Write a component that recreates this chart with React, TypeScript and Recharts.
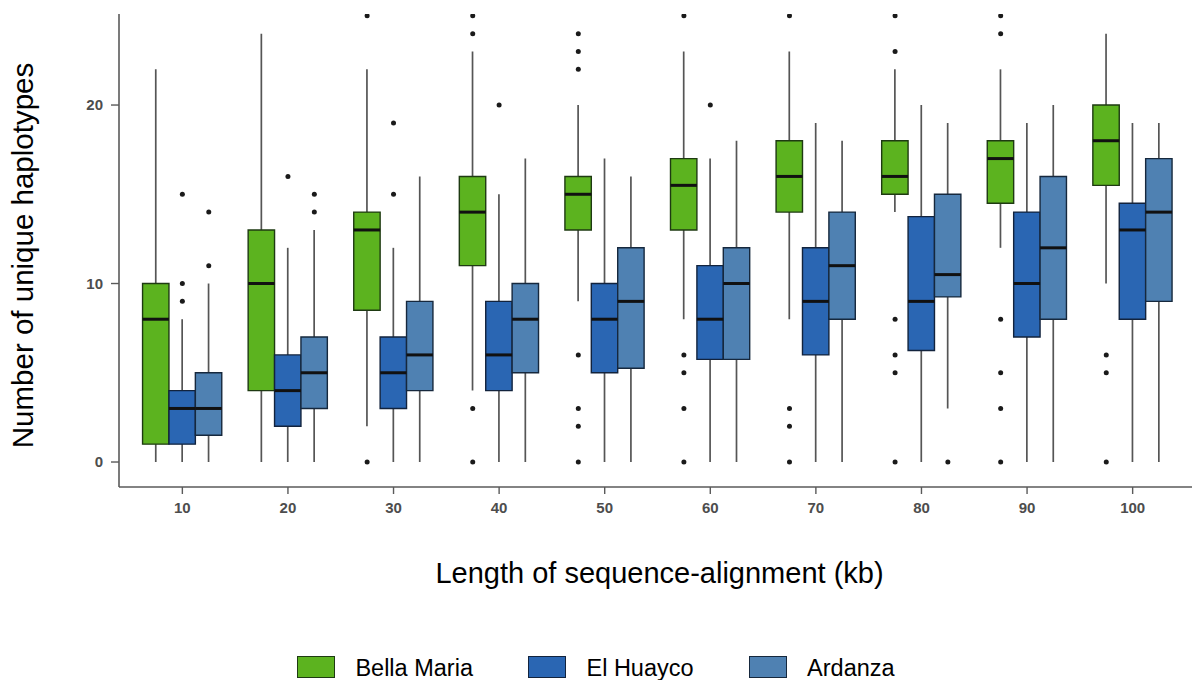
import React from 'react';
import { ComposedChart, XAxis, YAxis, Bar, Scatter } from 'recharts';

// lower whisker, first quartile, median, third quartile, upper whisker
type FiveNum = [number, number, number, number, number];

const kbLabels = ['10', '20', '30', '40', '50', '60', '70', '80', '90', '100'];

const bellaMariaStats: FiveNum[] = [
  [0, 1, 8, 10, 22],
  [0, 4, 10, 13, 24],
  [2, 8.5, 13, 14, 22],
  [4, 11, 14, 16, 23],
  [9, 13, 15, 16, 20],
  [8, 13, 15.5, 17, 23],
  [8, 14, 16, 18, 23],
  [14, 15, 16, 18, 22],
  [12, 14.5, 17, 18, 22],
  [10, 15.5, 18, 20, 24],
];

const elHuaycoStats: FiveNum[] = [
  [0, 1, 3, 4, 8],
  [0, 2, 4, 6, 12],
  [0, 3, 5, 7, 12],
  [0, 4, 6, 9, 15],
  [0, 5, 8, 10, 17],
  [0, 5.75, 8, 11, 17],
  [0, 6, 9, 12, 19],
  [0, 6.25, 9, 13.75, 20],
  [0, 7, 10, 14, 19],
  [0, 8, 13, 14.5, 19],
];

const ardanzaStats: FiveNum[] = [
  [0, 1.5, 3, 5, 10],
  [0, 3, 5, 7, 13],
  [0, 4, 6, 9, 16],
  [0, 5, 8, 10, 17],
  [0, 5.25, 9, 12, 16],
  [0, 5.75, 10, 12, 18],
  [0, 8, 11, 14, 18],
  [3, 9.25, 10.5, 15, 19],
  [0, 8, 12, 16, 20],
  [0, 9, 14, 17, 19],
];

const bellaMariaOutliers: number[][] = [
  [],
  [],
  [0, 25],
  [0, 3, 24, 25],
  [0, 2, 3, 6, 22, 23, 24],
  [0, 3, 5, 6, 25],
  [0, 2, 3, 25],
  [0, 5, 6, 8, 23, 25],
  [0, 3, 5, 8, 24, 25, 26],
  [0, 5, 6],
];

const elHuaycoOutliers: number[][] = [
  [9, 10, 15],
  [16],
  [15, 19],
  [20],
  [],
  [20],
  [],
  [],
  [],
  [],
];

const ardanzaOutliers: number[][] = [
  [11, 14],
  [14, 15],
  [],
  [],
  [],
  [],
  [],
  [0],
  [],
  [],
];

const FONT = '"Liberation Sans", Arial, Helvetica, sans-serif';
const Y_DOMAIN: [number, number] = [-1.4, 25.1];

const sites = [
  { key: 'bella', name: 'Bella Maria', stats: bellaMariaStats, outliers: bellaMariaOutliers, fill: '#5cb31f', edge: '#1e3a12', dodge: -0.25 },
  { key: 'huayco', name: 'El Huayco', stats: elHuaycoStats, outliers: elHuaycoOutliers, fill: '#2a66b3', edge: '#12233d', dodge: 0 },
  { key: 'ardanza', name: 'Ardanza', stats: ardanzaStats, outliers: ardanzaOutliers, fill: '#4f81b2', edge: '#16283d', dodge: 0.25 },
];

const rows = kbLabels.map((kb, i) => ({
  kb,
  bella: bellaMariaStats[i],
  huayco: elHuaycoStats[i],
  ardanza: ardanzaStats[i],
}));

// outliers sit on a numeric copy of the category axis (category i -> i + 1)
const outlierPoints = sites.map((s) =>
  s.outliers.flatMap((vals, i) => vals.map((v) => ({ x: i + 1 + s.dodge, y: v })))
);

const pick = (key: string, a: number, b: number) => (r: any) =>
  r && r[key] ? [r[key][a], r[key][b]] : undefined;

const Whisker = (props: any) => {
  const { x, y, width, height } = props;
  const cx = x + width / 2;
  return <line x1={cx} x2={cx} y1={y} y2={y + height} stroke="#555" strokeWidth={1.7} />;
};

const MedianLine = (props: any) => {
  const { x, y, width } = props;
  return <line x1={x} x2={x + width} y1={y} y2={y} stroke="#111" strokeWidth={3} />;
};

const OutlierDot = (props: any) => <circle cx={props.cx} cy={props.cy} r={2.5} fill="#1a1a1a" />;

const YTitle = (props: any) => {
  const { viewBox } = props;
  const x = viewBox.x + 33;
  const y = viewBox.y + viewBox.height / 2 + 5;
  return (
    <text x={x} y={y} transform={`rotate(-90, ${x}, ${y})`} textAnchor="middle" fontSize={29.5} fill="#000" fontFamily={FONT}>
      Number of unique haplotypes
    </text>
  );
};

const XTitle = (props: any) => {
  const { viewBox } = props;
  return (
    <text x={viewBox.x + viewBox.width / 2 + 2} y={viewBox.y + 96} textAnchor="middle" fontSize={29} fill="#000" fontFamily={FONT}>
      Length of sequence-alignment (kb)
    </text>
  );
};

const BAND_PAD = 10.56;
const tickStyle = { fontSize: 15, fontWeight: 700, fill: '#4d4d4d', fontFamily: FONT };

export default function App() {
  return (
    <div style={{ position: 'absolute', left: 0, top: 0, width: 1192, height: 680, overflow: 'hidden', background: '#fff', fontFamily: FONT }}>
      <ComposedChart
        width={1200}
        height={680}
        data={rows}
        margin={{ top: 14, right: 4, bottom: 0, left: 0 }}
        barSize={26.4}
        barGap={0}
      >
        <XAxis
          xAxisId="box"
          dataKey="kb"
          type="category"
          height={193}
          padding={{ left: BAND_PAD, right: BAND_PAD }}
          axisLine={{ stroke: '#5a5a5a', strokeWidth: 1.6 }}
          tickLine={{ stroke: '#5a5a5a', strokeWidth: 1.4 }}
          tickSize={7}
          tickMargin={8}
          tick={tickStyle}
          label={<XTitle />}
        />
        <XAxis xAxisId="whisker" dataKey="kb" type="category" hide padding={{ left: BAND_PAD, right: BAND_PAD }} />
        <XAxis xAxisId="median" dataKey="kb" type="category" hide padding={{ left: BAND_PAD, right: BAND_PAD }} />
        <XAxis xAxisId="num" type="number" dataKey="x" domain={[0.4, 10.6]} hide allowDataOverflow />
        <YAxis
          width={119}
          domain={Y_DOMAIN}
          allowDataOverflow
          ticks={[0, 10, 20]}
          axisLine={{ stroke: '#5a5a5a', strokeWidth: 1.6 }}
          tickLine={{ stroke: '#5a5a5a', strokeWidth: 1.4 }}
          tickSize={8}
          tickMargin={8}
          tick={tickStyle}
          label={<YTitle />}
        />
        <YAxis yAxisId="num" type="number" dataKey="y" domain={Y_DOMAIN} allowDataOverflow hide />

        {sites.map((s) => (
          <Bar
            key={`w-${s.key}`}
            xAxisId="whisker"
            dataKey={pick(s.key, 0, 4)}
            shape={Whisker}
            isAnimationActive={false}
          />
        ))}
        {sites.map((s) => (
          <Bar
            key={`b-${s.key}`}
            xAxisId="box"
            dataKey={pick(s.key, 1, 3)}
            fill={s.fill}
            stroke={s.edge}
            strokeWidth={1.4}
            isAnimationActive={false}
          />
        ))}
        {sites.map((s) => (
          <Bar
            key={`m-${s.key}`}
            xAxisId="median"
            dataKey={pick(s.key, 2, 2)}
            shape={MedianLine}
            isAnimationActive={false}
          />
        ))}
        {sites.map((s, i) => (
          <Scatter
            key={`o-${s.key}`}
            xAxisId="num"
            yAxisId="num"
            data={outlierPoints[i]}
            dataKey="y"
            shape={OutlierDot}
            isAnimationActive={false}
          />
        ))}
      </ComposedChart>

      <div
        style={{
          position: 'absolute',
          left: 0,
          top: 654,
          width: 1192,
          display: 'flex',
          justifyContent: 'center',
          gap: 55.5,
        }}
      >
        {sites.map((s) => (
          <div key={s.key} style={{ display: 'flex', alignItems: 'center', gap: 20 }}>
            <span style={{ width: 38, height: 22, background: s.fill, border: `1px solid ${s.edge}`, boxSizing: 'border-box' }} />
            <span style={{ fontSize: 23.5, lineHeight: '22px', color: '#000', paddingTop: 3 }}>{s.name}</span>
          </div>
        ))}
      </div>
    </div>
  );
}
